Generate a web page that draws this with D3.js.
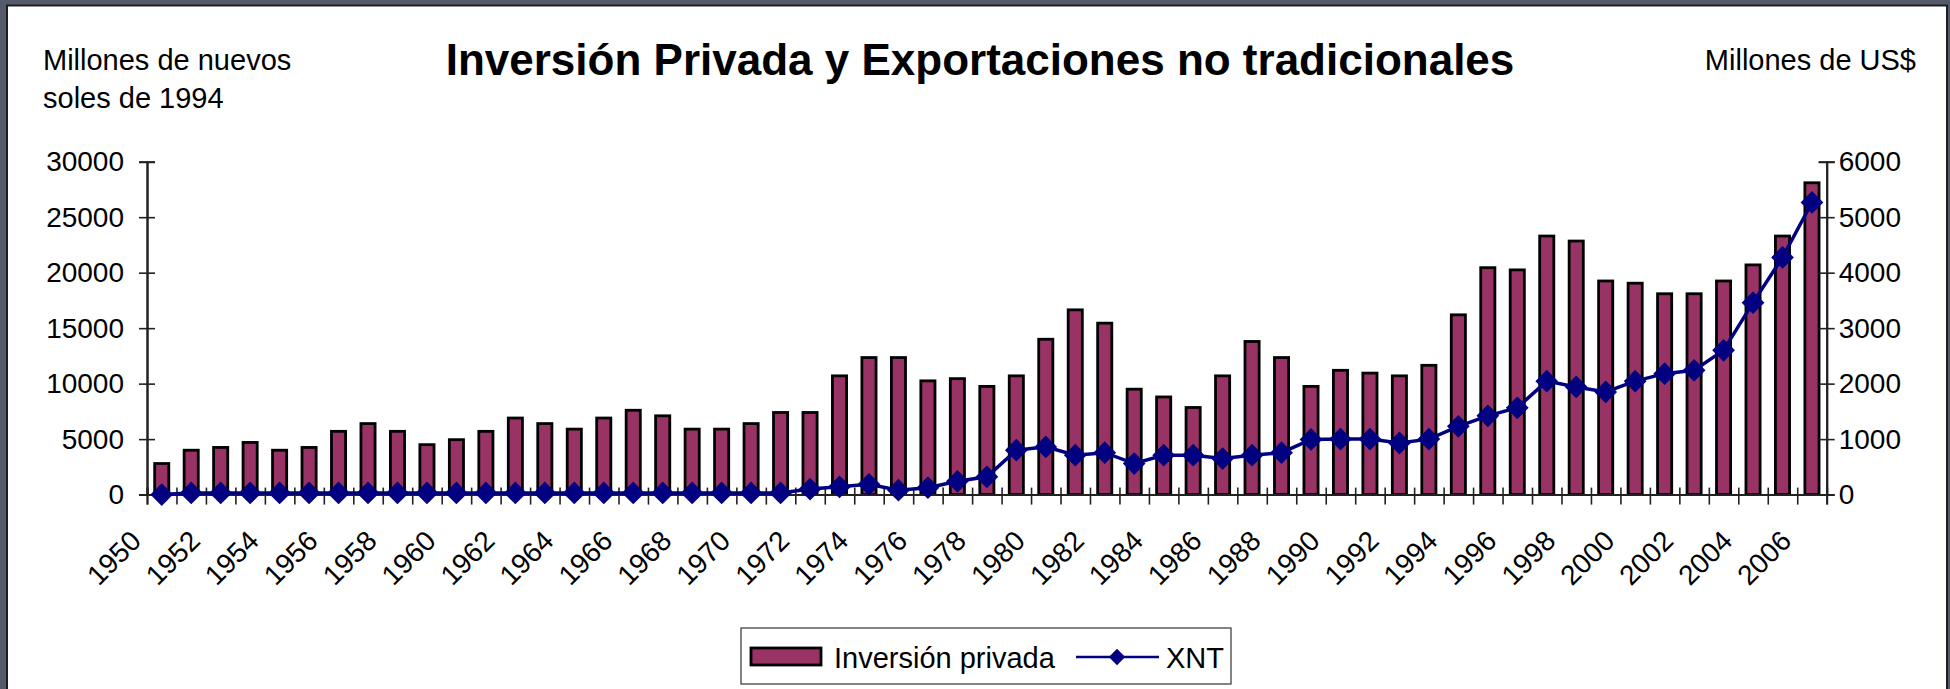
<!DOCTYPE html>
<html>
<head>
<meta charset="utf-8">
<script src="https://cdn.jsdelivr.net/npm/d3@7"></script>
<style>
    html, body { margin: 0; padding: 0; background: #555a6a; }
    #chart { width: 1950px; height: 689px; }
    text { font-family: "Liberation Sans", Arial, sans-serif; fill: #000; }
</style>
</head>
<body>
<div id="chart"></div>
<script>
// Years on the category axis
const years = d3.range(1950, 2007);

// Inversión privada (millones de nuevos soles de 1994)
const inversion = [
    2800, 4000, 4250, 4700, 4000, 4250, 5700, 6400, 5700, 4500,
    4950, 5700, 6900, 6400, 5900, 6900, 7600, 7100, 5900, 5900,
    6400, 7400, 7400, 10700, 12350, 12350, 10250, 10450, 9750, 10700,
    14000, 16650, 15450, 9500, 8800, 7850, 10700, 13800, 12350, 9750,
    11200, 10950, 10700, 11650, 16200, 20450, 20250, 23300, 22850, 19250,
    19050, 18100, 18100, 19250, 20700, 23300, 28100
];

// XNT, exportaciones no tradicionales (millones de US$)
const xnt = [
    0, 30, 30, 30, 30, 30, 30, 30, 30, 30,
    30, 30, 30, 30, 30, 30, 30, 30, 30, 30,
    30, 30, 100, 140, 185, 80, 125, 240, 320, 800,
    860, 710, 755, 560, 710, 710, 650, 710, 755, 995,
    1000, 1000, 930, 1000, 1230, 1420, 1565, 2045, 1940, 1850,
    2045, 2180, 2240, 2600, 3460, 4275, 5265
];

const leftTicks = [0, 5000, 10000, 15000, 20000, 25000, 30000];
const rightTicks = [0, 1000, 2000, 3000, 4000, 5000, 6000];
const labelYears = years.filter(y => y % 2 === 0);

const W = 1950, H = 689;
const plot = {left: 147, right: 1826.7, top: 161.7, bottom: 494.6};
const barColor = '#993366';
const lineColor = '#000080';

const svg = d3.select('#chart').append('svg')
    .attr('width', W)
    .attr('height', H);

// Slide frame and white panel
svg.append('rect').attr('width', W).attr('height', H).attr('fill', '#555a6a');
svg.append('rect')
    .attr('x', 7).attr('y', 5.5)
    .attr('width', 1940).attr('height', H)
    .attr('fill', '#fff')
    .attr('stroke', '#1e1e22')
    .attr('stroke-width', 2);

// Scales
const x = d3.scaleBand()
    .domain(years)
    .range([plot.left, plot.right])
    .padding(0);

const xEdge = d3.scaleLinear()
    .domain([0, years.length])
    .range([plot.left, plot.right]);

const yLeft = d3.scaleLinear()
    .domain([0, 30000])
    .range([plot.bottom, plot.top]);

const yRight = d3.scaleLinear()
    .domain([0, 6000])
    .range([plot.bottom, plot.top]);

const barW = x.bandwidth() * 0.48;
const fmt = d3.format('d');

// Bars
svg.append('g')
    .selectAll('rect')
    .data(years)
    .enter().append('rect')
    .attr('x', (d, i) => x(d) + x.bandwidth() / 2 - barW / 2)
    .attr('y', (d, i) => yLeft(inversion[i]))
    .attr('width', barW)
    .attr('height', (d, i) => yLeft(0) - yLeft(inversion[i]))
    .attr('fill', barColor)
    .attr('stroke', '#000')
    .attr('stroke-width', 2.8);

// Left axis, ticks cross the line
const gl = svg.append('g').attr('transform', `translate(${plot.left},0)`);
gl.call(d3.axisLeft(yLeft).tickValues(leftTicks).tickFormat(fmt).tickSize(8).tickPadding(15));
gl.append('g').call(d3.axisRight(yLeft).tickValues(leftTicks).tickSize(8).tickFormat(''));

// Right axis
const gr = svg.append('g').attr('transform', `translate(${plot.right},0)`);
gr.call(d3.axisRight(yRight).tickValues(rightTicks).tickFormat(fmt).tickSize(8).tickPadding(4));
gr.append('g').call(d3.axisLeft(yRight).tickValues(rightTicks).tickSize(8).tickFormat(''));

// Category axis: boundary ticks
const gx = svg.append('g').attr('transform', `translate(0,${plot.bottom})`);
gx.call(d3.axisBottom(xEdge).tickValues(d3.range(0, years.length + 1)).tickSize(10).tickFormat(''));
gx.append('g').call(d3.axisTop(xEdge).tickValues(d3.range(0, years.length + 1)).tickSize(7).tickFormat(''));

// Category labels, every second year, rotated
const gxl = svg.append('g').attr('transform', `translate(0,${plot.bottom})`);
gxl.call(d3.axisBottom(x).tickValues(labelYears).tickSize(0));
gxl.select('.domain').remove();
gxl.selectAll('.tick text')
    .attr('text-anchor', 'end')
    .attr('dy', 0)
    .attr('y', 0)
    .attr('transform', 'translate(-19,48) rotate(-45)');

svg.selectAll('.domain').attr('stroke', '#222').attr('stroke-width', 2);
svg.selectAll('.tick line').attr('stroke', '#222').attr('stroke-width', 1.6);
svg.selectAll('.tick text')
    .style('font-family', '"Liberation Sans", Arial, sans-serif')
    .style('font-size', '28px')
    .attr('fill', '#000');

// XNT line with diamond markers
const line = d3.line()
    .x((d, i) => x(years[i]) + x.bandwidth() / 2)
    .y(d => yRight(d));

svg.append('path')
    .datum(xnt)
    .attr('d', line)
    .attr('fill', 'none')
    .attr('stroke', lineColor)
    .attr('stroke-width', 3.5);

const diamond = d3.symbol().type(d3.symbolDiamond2).size(330);
svg.append('g')
    .selectAll('path')
    .data(xnt)
    .enter().append('path')
    .attr('d', diamond)
    .attr('transform', (d, i) => `translate(${x(years[i]) + x.bandwidth() / 2},${yRight(d)})`)
    .attr('fill', lineColor);

// Title and unit labels
svg.append('text')
    .attr('x', 980)
    .attr('y', 75)
    .attr('text-anchor', 'middle')
    .style('font-size', '44px')
    .style('font-weight', 'bold')
    .text('Inversión Privada y Exportaciones no tradicionales');

svg.append('text')
    .attr('x', 43)
    .attr('y', 70)
    .style('font-size', '29px')
    .text('Millones de nuevos');
svg.append('text')
    .attr('x', 43)
    .attr('y', 108)
    .style('font-size', '29px')
    .text('soles de 1994');

svg.append('text')
    .attr('x', 1916)
    .attr('y', 70)
    .attr('text-anchor', 'end')
    .style('font-size', '29px')
    .text('Millones de US$');

// Legend
const legend = svg.append('g').attr('transform', 'translate(741,628)');
legend.append('rect')
    .attr('width', 490).attr('height', 56)
    .attr('fill', '#fff')
    .attr('stroke', '#333')
    .attr('stroke-width', 1.2);
legend.append('rect')
    .attr('x', 10).attr('y', 20)
    .attr('width', 70).attr('height', 17)
    .attr('fill', barColor)
    .attr('stroke', '#000')
    .attr('stroke-width', 2.8);
legend.append('text')
    .attr('x', 93).attr('y', 40)
    .style('font-size', '29px')
    .text('Inversión privada');
legend.append('line')
    .attr('x1', 335).attr('x2', 418)
    .attr('y1', 29).attr('y2', 29)
    .attr('stroke', lineColor)
    .attr('stroke-width', 2.5);
legend.append('path')
    .attr('d', d3.symbol().type(d3.symbolDiamond2).size(170))
    .attr('transform', 'translate(376,29)')
    .attr('fill', lineColor);
legend.append('text')
    .attr('x', 425).attr('y', 40)
    .style('font-size', '29px')
    .text('XNT');
</script>
</body>
</html>
